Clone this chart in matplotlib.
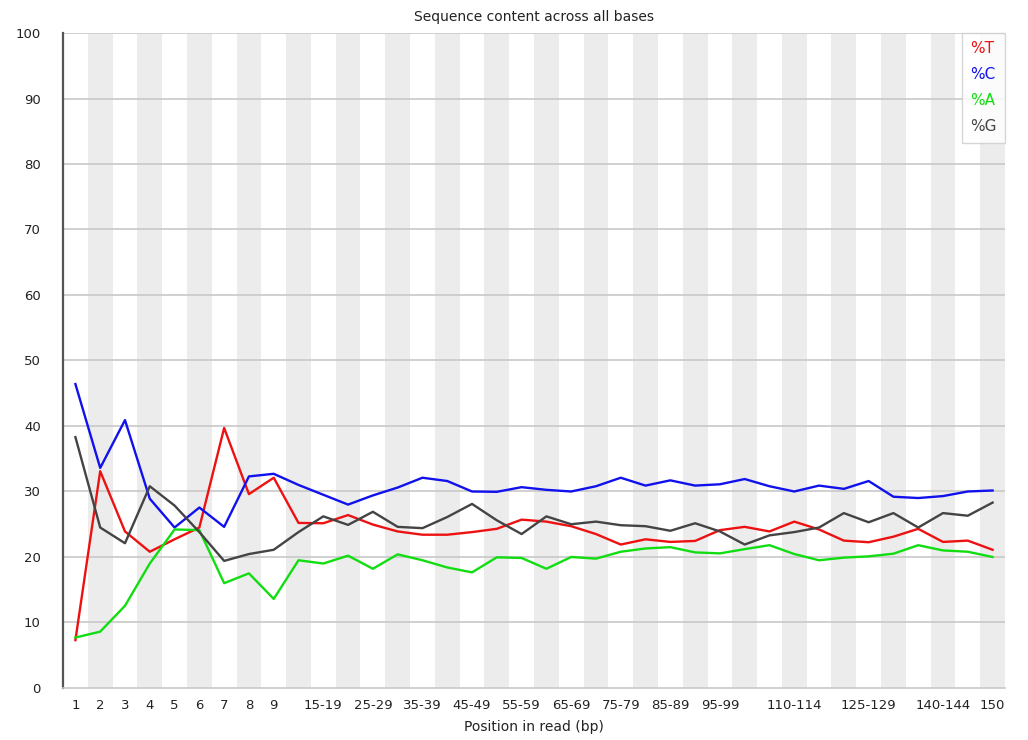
import numpy as np
import matplotlib
matplotlib.use("Agg")
import matplotlib.pyplot as plt

# Position groups along the read
positions = ["1", "2", "3", "4", "5", "6", "7", "8", "9",
             "10-14", "15-19", "20-24", "25-29", "30-34", "35-39", "40-44",
             "45-49", "50-54", "55-59", "60-64", "65-69", "70-74", "75-79",
             "80-84", "85-89", "90-94", "95-99", "100-104", "105-109",
             "110-114", "115-119", "120-124", "125-129", "130-134",
             "135-139", "140-144", "145-149", "150"]

# Base percentages per position
pct_t = [7.3, 33.1, 23.9, 20.8, 22.7, 24.5, 39.7, 29.6, 32.1, 25.2, 25.15,
         26.4, 24.95, 23.9, 23.4, 23.4, 23.8, 24.3, 25.7, 25.4, 24.7, 23.5,
         21.9, 22.7, 22.3, 22.45, 24.1, 24.6, 23.9, 25.4, 24.2, 22.5, 22.25,
         23.1, 24.3, 22.3, 22.5, 21.1]
pct_c = [46.4, 33.6, 40.9, 28.9, 24.5, 27.55, 24.6, 32.3, 32.7, 31.0, 29.5,
         28.0, 29.4, 30.6, 32.1, 31.6, 30.0, 29.95, 30.66, 30.25, 30.0, 30.8,
         32.1, 30.9, 31.7, 30.9, 31.1, 31.9, 30.8, 30.0, 30.9, 30.4, 31.6,
         29.2, 29.0, 29.3, 30.0, 30.15]
pct_a = [7.7, 8.6, 12.55, 19.0, 24.2, 24.1, 16.0, 17.5, 13.6, 19.5, 19.0,
         20.2, 18.2, 20.4, 19.5, 18.4, 17.65, 19.95, 19.85, 18.2, 20.0, 19.75,
         20.8, 21.3, 21.5, 20.7, 20.55, 21.2, 21.8, 20.45, 19.5, 19.9, 20.1,
         20.5, 21.8, 21.0, 20.8, 20.0]
pct_g = [38.3, 24.5, 22.1, 30.8, 27.85, 23.8, 19.4, 20.45, 21.1, 23.8, 26.2,
         24.9, 26.9, 24.6, 24.4, 26.1, 28.1, 25.6, 23.5, 26.2, 25.0, 25.4,
         24.85, 24.7, 24.0, 25.15, 23.9, 21.9, 23.3, 23.8, 24.5, 26.7, 25.3,
         26.7, 24.5, 26.7, 26.3, 28.3]

# Which position labels fit on the axis
shown_labels = ["1", "2", "3", "4", "5", "6", "7", "8", "9", "15-19",
                "25-29", "35-39", "45-49", "55-59", "65-69", "75-79",
                "85-89", "95-99", "110-114", "125-129", "140-144", "150"]

x = np.arange(len(positions))

fig = plt.figure(figsize=(10.28, 7.40), dpi=100)
ax = fig.add_axes([0.0613, 0.0703, 0.9163, 0.8851])

# Alternating background bands
for i in x:
    if i % 2 == 1:
        ax.axvspan(i - 0.5, i + 0.5, color="#ececec", lw=0, zorder=0)

# Horizontal grid
for yv in range(10, 101, 10):
    ax.axhline(yv, color="#c8c8c8", lw=1.2, zorder=1)

ax.plot(x, pct_t, color="#ee1111", lw=1.7, label="%T", zorder=3)
ax.plot(x, pct_c, color="#1111ee", lw=1.7, label="%C", zorder=3)
ax.plot(x, pct_a, color="#11dd11", lw=1.7, label="%A", zorder=3)
ax.plot(x, pct_g, color="#444444", lw=1.7, label="%G", zorder=3)

ax.set_xlim(-0.5, len(positions) - 0.5)
ax.set_ylim(0, 100)
ax.set_yticks(range(0, 101, 10))
ax.set_yticklabels([str(v) for v in range(0, 101, 10)], fontsize=9.5, color="#222222")

tick_pos = [positions.index(lab) for lab in shown_labels]
ax.set_xticks(tick_pos)
ax.set_xticklabels(shown_labels, fontsize=9.5, color="#222222")
ax.tick_params(axis="both", length=0)
ax.tick_params(axis="y", pad=16)
ax.tick_params(axis="x", pad=8)

for side in ["top", "right"]:
    ax.spines[side].set_visible(False)
ax.spines["bottom"].set_color("#c8c8c8")
ax.spines["bottom"].set_linewidth(1.2)
ax.spines["left"].set_color("#555555")
ax.spines["left"].set_linewidth(1.6)

ax.set_title("Sequence content across all bases", fontsize=10, pad=9, color="#222222")
ax.set_xlabel("Position in read (bp)", fontsize=10, labelpad=6, color="#222222")

leg = ax.legend(loc="upper right", handlelength=0, handletextpad=0,
                labelcolor="linecolor", fontsize=11, frameon=True,
                fancybox=False, borderaxespad=0, labelspacing=0.72,
                borderpad=0.55)
leg.get_frame().set_edgecolor("#cccccc")
leg.get_frame().set_linewidth(1.0)
for h in leg.legend_handles:
    h.set_visible(False)

fig.savefig("out.png", dpi=100)
